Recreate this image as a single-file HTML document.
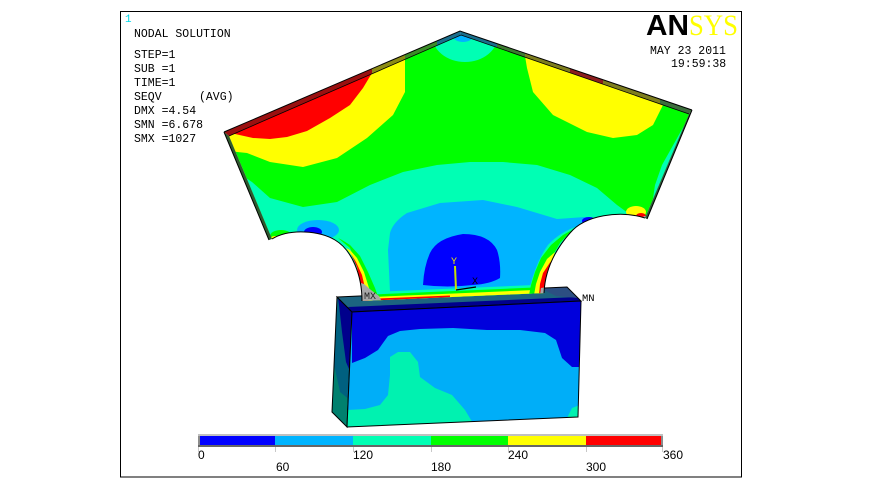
<!DOCTYPE html>
<html>
<head>
<meta charset="utf-8">
<style>
  html,body{margin:0;padding:0;background:#fff;}
  svg{display:block;}
  .mono{font-family:"Liberation Mono","DejaVu Sans Mono",monospace;}
  .sans{font-family:"Liberation Sans","DejaVu Sans",sans-serif;}
</style>
</head>
<body>
<svg width="871" height="489" viewBox="0 0 871 489" xmlns="http://www.w3.org/2000/svg">
  <defs>
    <clipPath id="spec">
      <path d="M229,136 L461,35 L689,114 L645,218 C620,210 585,215 570,233 C555,250 545,270 544,293 L362,301 C362,275 352,250 335,240 C320,231 290,228 272,239 Z"/>
    </clipPath>
    <clipPath id="front">
      <polygon points="352,312 581,301 578,417 347,427"/>
    </clipPath>
    <clipPath id="side">
      <polygon points="337,297 352,312 347,427 332,412"/>
    </clipPath>
    <linearGradient id="edge" gradientUnits="userSpaceOnUse" x1="224" y1="0" x2="692" y2="0">
      <stop offset="0" stop-color="#9a1010"/>
      <stop offset="0.316" stop-color="#9a1010"/>
      <stop offset="0.316" stop-color="#8c8c14"/>
      <stop offset="0.387" stop-color="#8c8c14"/>
      <stop offset="0.387" stop-color="#3c8c28"/>
      <stop offset="0.455" stop-color="#3c8c28"/>
      <stop offset="0.455" stop-color="#1a6e8c"/>
      <stop offset="0.583" stop-color="#1a6e8c"/>
      <stop offset="0.583" stop-color="#3c7a30"/>
      <stop offset="0.643" stop-color="#3c7a30"/>
      <stop offset="0.643" stop-color="#7e7e1e"/>
      <stop offset="0.739" stop-color="#7e7e1e"/>
      <stop offset="0.739" stop-color="#8c1e1e"/>
      <stop offset="0.810" stop-color="#8c1e1e"/>
      <stop offset="0.810" stop-color="#7e7e1e"/>
      <stop offset="0.932" stop-color="#7e7e1e"/>
      <stop offset="0.932" stop-color="#3c6e3c"/>
      <stop offset="1" stop-color="#3c6e3c"/>
    </linearGradient>
  </defs>

  <rect x="0" y="0" width="871" height="489" fill="#fff"/>
  <rect x="120.5" y="11.5" width="621" height="465.5" fill="none" stroke="#000" stroke-width="1"/>

  <!-- ===== BLOCK ===== -->
  <g clip-path="url(#side)">
    <rect x="325" y="290" width="40" height="145" fill="#00806e"/>
    <polygon points="337,297 352,312 350,400 340,392 333,360 333,300" fill="#006080"/>
    <polygon points="338,298 353,312 352,376 346,362 342,332 339,305" fill="#00008c"/>
  </g>
  <polygon points="337,297 352,312 347,427 332,412" fill="none" stroke="#000" stroke-width="1"/>

  <polygon points="337,297 567,287 581,301 352,312" fill="#1c6480"/>
  <polygon points="348,307 577,297 581,301 352,312" fill="#00008c"/>
  <polygon points="540,288 567,287 578,298 556,296" fill="#2c4f82"/>
  <polygon points="337,297 567,287 581,301 352,312" fill="none" stroke="#000" stroke-width="1"/>

  <g clip-path="url(#front)">
    <rect x="340" y="295" width="250" height="140" fill="#00aef8"/>
    <polygon points="352,312 581,301 581,367 572,367 562,358 556,340 545,333 520,330 487,330 453,328 420,329 400,331 388,336 378,350 365,358 352,363" fill="#0000dc"/>
    <polygon points="390,357 398,352 410,352 418,362 420,377 435,388 452,395 465,410 474,425 476,432 340,432 346,410 365,409 380,405 388,395 390,375" fill="#00f2b0"/>
    <polygon points="566,420 572,408 580,405 580,420" fill="#00f2b0"/>
  </g>
  <polygon points="352,312 581,301 578,417 347,427" fill="none" stroke="#000" stroke-width="1"/>

  <!-- ===== SPECIMEN ===== -->
  <g clip-path="url(#spec)">
    <rect x="200" y="20" width="520" height="300" fill="#00ff00"/>
    <polygon points="215,125 405,40 405,92 393,115 367,138 337,158 303,167 270,162 247,153 228,151 215,150" fill="#ffff00"/>
    <polygon points="228,118 382,52 377,64 372,73 363,88 350,105 330,118 307,131 287,137 270,139 253,138 235,134" fill="#ff0000"/>
    <polygon points="522,40 700,95 665,100 663,105 653,125 637,135 613,138 587,132 553,115 533,92 527,68 524,50" fill="#ffff00"/>
    <ellipse cx="465" cy="35" rx="33" ry="27" fill="#00ffb4"/>
    <ellipse cx="463" cy="36" rx="10" ry="6" fill="#00b4ff"/>
    <polygon points="200,170 246,178 252,182 270,198 303,207 337,202 370,185 403,172 437,165 470,162 503,162 537,165 570,175 597,188 617,205 628,213 650,225 700,260 700,330 200,330" fill="#00ffb4"/>
    <polygon points="686,122 676,140 662,165 655,185 652,205 648,218 700,218 700,110" fill="#00ffb4"/>
    <ellipse cx="281" cy="236" rx="11" ry="6" fill="#00ff00"/>
    <ellipse cx="275" cy="239" rx="5" ry="3" fill="#ffff00"/>
    <ellipse cx="636" cy="212" rx="10" ry="6" fill="#ffff00"/>
    <ellipse cx="641" cy="216" rx="5" ry="3" fill="#ff0000"/>
    <ellipse cx="645" cy="218" rx="2" ry="2" fill="#a8a8a8"/>
    <ellipse cx="318" cy="230" rx="21" ry="10" fill="#00b4ff"/>
    <ellipse cx="313" cy="232" rx="9" ry="5" fill="#0000ff"/>
    <path d="M390,292 L388,250 L390,233 Q393,222 407,213 L440,203 L483,200 L517,207 L557,219 L585,217 L596,222 L578,226 Q560,232 548,245 Q536,262 530,287 Z" fill="#00b4ff"/>
    <ellipse cx="589" cy="221" rx="7" ry="4" fill="#0000ff"/>
    <path d="M423,285 Q424,266 430,253 Q437,238 463,234 Q489,234 497,250 Q501,262 500,278 Q490,284 473,285 Q447,288 423,285 Z" fill="#0000ff"/>
    <line x1="355" y1="301.3" x2="552" y2="292.7" stroke="#00ffb4" stroke-width="17"/>
    <line x1="355" y1="301.3" x2="552" y2="292.7" stroke="#00ff00" stroke-width="12"/>
    <line x1="355" y1="301.3" x2="552" y2="292.7" stroke="#ffff00" stroke-width="7"/>
    <line x1="355" y1="301.3" x2="450" y2="297.2" stroke="#ff0000" stroke-width="3.5"/>
    <polygon points="338,238 350,248 356,262 360,280 362,302 380,302 375,288 368,272 360,256 350,245 342,240" fill="#00ff00"/>
    <polygon points="346,248 355,260 359,276 362,302 374,302 369,288 364,272 357,258 350,250" fill="#ffff00"/>
    <polygon points="351,254 357,267 360,280 362,302 369,302 365,288 362,275 356,262" fill="#ff0000"/>
    <polygon points="358,282 364,284 371,290 379,296 382,302 358,302" fill="#a8a8a8"/>
    <polygon points="572,230 560,243 553,255 548,270 545,285 544,294 529,295 531,285 535,272 541,258 551,245 563,235" fill="#00ff00"/>
    <polygon points="555,252 548,270 545,285 544,294 534,295 536,284 540,272 547,259" fill="#ffff00"/>
    <polygon points="551,261 547,272 545,285 544,294 539,295 540,284 543,273" fill="#ff0000"/>
    <polygon points="541,288 547,287 547,295 540,295" fill="#a8a8a8"/>
  </g>

  <polygon points="224,132 460,31 461,35 229,136" fill="url(#edge)"/>
  <polygon points="460,31 692,110 689,114 461,35" fill="url(#edge)"/>
  <polygon points="224,132 229,136 272,239 269,240" fill="#2f5a2f"/>
  <polygon points="692,110 689,114 645,218 647,219" fill="#2f5a3a"/>
  <polyline points="224,132 460,31 692,110" fill="none" stroke="#000" stroke-width="1"/>
  <polyline points="229,136 461,35 689,114" fill="none" stroke="#000" stroke-width="0.8"/>
  <path d="M269,240 L224,132 M692,110 L647,219" fill="none" stroke="#000" stroke-width="1"/>
  <path d="M645,218 C620,210 585,215 570,233 C555,250 545,270 544,293" fill="none" stroke="#000" stroke-width="1"/>
  <path d="M362,301 C362,275 352,250 335,240 C320,231 290,228 272,239" fill="none" stroke="#000" stroke-width="1"/>

  <line x1="455" y1="266" x2="456" y2="290" stroke="#c8e000" stroke-width="2"/>
  <line x1="456" y1="290" x2="476" y2="287" stroke="#000" stroke-width="1.2"/>
  <text x="451" y="264" class="mono" font-size="10" fill="#e6e600">Y</text>
  <text x="472" y="284" class="mono" font-size="10" fill="#000">X</text>

  <text x="364" y="299" class="mono" font-size="10" fill="#222">MX</text>
  <text x="582" y="301" class="mono" font-size="10.5" fill="#000">MN</text>

  <text x="125" y="22" class="mono" font-size="11" fill="#00d8e8">1</text>
  <g class="mono" font-size="11.5" fill="#000">
    <text x="134" y="37">NODAL SOLUTION</text>
    <text x="134" y="58">STEP=1</text>
    <text x="134" y="72">SUB =1</text>
    <text x="134" y="86">TIME=1</text>
    <text x="134" y="100">SEQV</text>
    <text x="199" y="100">(AVG)</text>
    <text x="134" y="114">DMX =4.54</text>
    <text x="134" y="128">SMN =6.678</text>
    <text x="134" y="142">SMX =1027</text>
    <text x="650" y="54">MAY 23 2011</text>
    <text x="671" y="67">19:59:38</text>
  </g>

  <text x="646" y="35" class="sans" font-size="29" font-weight="bold" fill="#000" textLength="43" lengthAdjust="spacingAndGlyphs">AN</text>
  <text x="689" y="35" font-family="'Liberation Serif','DejaVu Serif',serif" font-size="30" fill="#ffff00" textLength="49" lengthAdjust="spacingAndGlyphs">SYS</text>

  <rect x="198" y="434" width="465" height="13" fill="#8c8c8c"/>
  <rect x="198" y="434" width="465" height="2" fill="#c0c0c0"/>
  <rect x="198" y="445" width="465" height="2" fill="#666"/>
  <rect x="200" y="436" width="75" height="9" fill="#0000ff"/>
  <rect x="275" y="436" width="78" height="9" fill="#00b4ff"/>
  <rect x="353" y="436" width="78" height="9" fill="#00ffb4"/>
  <rect x="431" y="436" width="77" height="9" fill="#00ff00"/>
  <rect x="508" y="436" width="78" height="9" fill="#ffff00"/>
  <rect x="586" y="436" width="75" height="9" fill="#ff0000"/>
  <g stroke="#c8c8c8" stroke-width="1">
    <line x1="198.5" y1="447" x2="198.5" y2="452"/>
    <line x1="275.5" y1="447" x2="275.5" y2="452"/>
    <line x1="353.5" y1="447" x2="353.5" y2="452"/>
    <line x1="431.5" y1="447" x2="431.5" y2="452"/>
    <line x1="508.5" y1="447" x2="508.5" y2="452"/>
    <line x1="586.5" y1="447" x2="586.5" y2="452"/>
    <line x1="662.5" y1="447" x2="662.5" y2="452"/>
  </g>
  <g class="sans" font-size="12" fill="#000">
    <text x="198" y="459">0</text>
    <text x="276" y="471">60</text>
    <text x="353" y="459">120</text>
    <text x="431" y="471">180</text>
    <text x="508" y="459">240</text>
    <text x="586" y="471">300</text>
    <text x="663" y="459">360</text>
  </g>
</svg>
</body>
</html>
